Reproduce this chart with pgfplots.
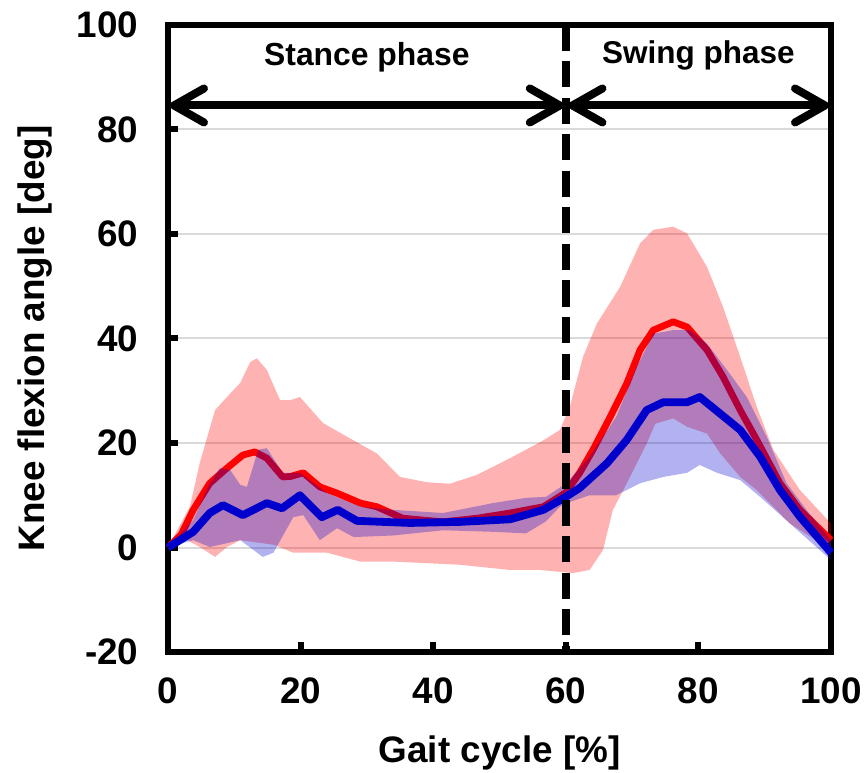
\documentclass[border=0pt]{standalone}
\usepackage{fontspec}
\setmainfont{Liberation Sans}
\usepackage{pgfplots}
\pgfplotsset{compat=1.18}
\usetikzlibrary{arrows.meta}
\definecolor{myred}{RGB}{255,0,0}
\definecolor{myblue}{RGB}{0,0,205}
\definecolor{gridgray}{RGB}{217,217,217}
\begin{document}
\begin{tikzpicture}
\useasboundingbox (-84bp,-60.5bp) rectangle (349.5bp,326bp);
\begin{axis}[
  at={(0,0)}, anchor=south west,
  width=331.5bp, height=313.5bp, scale only axis,
  xmin=0, xmax=100, ymin=-20, ymax=100,
  xtick={0,20,...,100}, ytick={-20,0,...,100},
  tick align=inside, xtick pos=bottom, ytick pos=left,
  major tick length=5bp,
  every tick/.style={black, line width=3bp},
  axis line style={line width=3.2bp},
  ymajorgrids, major grid style={line width=1bp, color=gridgray},
  /pgf/number format/assume math mode=true,
  ticklabel style={font=\fontsize{18.5}{22}\selectfont\bfseries},
  yticklabel style={xshift=-11.3bp},
  xticklabel style={yshift=-9.3bp},
  xlabel={Gait cycle [\%]}, ylabel={Knee flexion angle [deg]},
  label style={font=\fontsize{18.5}{22}\selectfont\bfseries},
  xlabel style={at={(axis description cs:0.5,-0.161)}, anchor=center},
  ylabel style={at={(axis description cs:-0.2006,0.5)}, anchor=center},
  clip=false,
  no markers,
]
% red band
\addplot[draw=none, fill=myred, fill opacity=0.3] coordinates {
(0,0) (3.3,7.8) (4.8,16.2) (7.1,26.3) (9.4,29.5) (10.9,31.5) (12.4,35.5) (13.4,36.2) (14.9,34) (16.9,28.2) (18.4,28.2) (19.9,28.8) (23.4,23.8) (27,21.2) (31.5,18) (35,13.5) (39,12.5) (42.5,12.2) (46.6,13.9) (51.6,17.1) (56.6,20.5) (59.1,22.5) (60.6,26.9) (62.6,36.5) (64.7,42.9) (68.2,49.9) (71.2,58.2) (73.2,60.8) (76.2,61.4) (78.3,60.1) (81.3,53.7) (83.7,46.1) (86.3,36.5) (88.8,26.9) (91.3,18.7) (95.3,11) (100,4.6)
(100,-0.5) (93.8,4.6) (88.8,11) (86.3,13.5) (83.3,18) (81.3,21.8) (78.3,23.1) (76.2,24.7) (73.5,23.7) (72.2,19.9) (69.2,12.3) (67.1,7.2) (65.6,-0.5) (63.6,-4.3) (61.1,-4.9) (56.1,-4.3) (51.6,-4.3) (44,-3.3) (34,-2.7) (29,-2.7) (24,-1) (18.9,-1) (16,0.5) (14.3,0.8) (10.9,1.4) (8.9,0.1) (7.1,-1.8) (4.8,0.1) (2.9,1.4) (0,0)
};
% red mean
\addplot[myred, line width=3.4bp, line join=round] coordinates {
(0,0) (2,2.5) (3.8,7.2) (6.3,12.3) (8.9,15.2) (11.3,17.7) (13.1,18.3) (14.9,17.1) (17.3,13.5) (18.5,13.6) (20.4,14.3) (22.9,11.6) (25.5,10.4) (29,8.5) (31.5,7.8) (35.4,5.6) (41.5,4.9) (46.6,5.6) (51.6,6.6) (56.6,7.8) (60,10.5) (62.1,14.3) (64.1,18.7) (66.7,25) (69.2,31.4) (71.2,37.8) (73.2,41.6) (76.2,43.2) (78.3,42.2) (81.3,37.8) (83.7,32.7) (86.3,26.3) (88.8,20.6) (92.3,12.3) (95.3,7.2) (100,1.4)
};
% blue band
\addplot[draw=none, fill=myblue, fill opacity=0.3] coordinates {
(0,0) (3.8,5.3) (6.3,12.3) (7.8,15.2) (9.4,14.8) (10.9,12) (11.9,11.6) (13.6,18.7) (14.9,19) (17.3,14.3) (19.9,14.3) (24,10.4) (26.5,9.1) (29,7.8) (34,7.2) (41.5,6.6) (49,8.5) (54,9.5) (57,9.7) (60.1,12.3) (63.6,17.4) (67.6,25) (70.7,34.6) (73.2,40.9) (76.2,41.6) (78.8,41.6) (81.3,39) (84.3,34) (87.3,28.8) (90.3,21.2) (93.3,12.3) (96.3,7.2) (100,1.4)
(100,-2.4) (93.8,4.6) (89.3,9.7) (86.3,12.9) (82.8,14.3) (80.2,15.8) (78.3,14.3) (74.7,13.5) (71.2,12.3) (67.6,10) (63.6,10) (60.1,8.5) (59.1,7.8) (57,5) (54,2.7) (49,3) (41.5,3.3) (34,2.3) (28,2) (25.5,3.7) (22.9,1.4) (20.4,6.2) (18.9,5.8) (15.9,-1) (14.3,-1.8) (10.9,1.4) (6.3,0.1) (3.8,1.4) (0,0)
};
% blue mean
\addplot[myblue, line width=3.9bp, line join=round] coordinates {
(0,0) (3.8,3) (6.3,6.6) (8.3,8.1) (11.3,6.2) (14.9,8.5) (17.2,7.5) (19.9,10) (23.2,5.8) (25.6,7.2) (28.5,5.1) (36.5,4.7) (44,4.9) (51.6,5.4) (56.6,7.2) (60,9.7) (62.1,11.4) (66.2,16.1) (69.2,20.6) (72.2,26.3) (74.7,27.8) (78.3,27.8) (80.2,28.8) (83.3,25.6) (86.3,22.5) (89.3,17.4) (92.3,11) (95.3,5.9) (100,-1)
};
% phase boundary
\addplot[black, line width=4bp, dash pattern=on 13bp off 5.25bp] coordinates {(60,100) (60,-20)};
% phase arrows
\draw[line width=4bp, {Straight Barb[length=15bp, width=17bp, round]}-{Straight Barb[length=15bp, width=17bp, round]}] (axis cs:0.3,84.6) -- (axis cs:59.7,84.6);
\draw[line width=4bp, {Straight Barb[length=15bp, width=17bp, round]}-{Straight Barb[length=15bp, width=17bp, round]}] (axis cs:60.4,84.6) -- (axis cs:99.7,84.6);
\node[anchor=base, font=\fontsize{16}{19}\selectfont\bfseries] at (axis cs:30,92.3) {Stance phase};
\node[anchor=base, font=\fontsize{15.8}{19}\selectfont\bfseries] at (axis cs:80,92.6) {Swing phase};
\end{axis}
\end{tikzpicture}
\end{document}
